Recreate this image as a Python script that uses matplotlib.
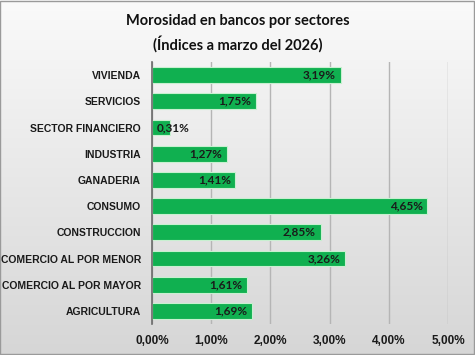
import matplotlib
matplotlib.use("Agg")
import matplotlib.pyplot as plt
import numpy as np
from matplotlib import font_manager as fm
from matplotlib.colors import LinearSegmentedColormap

categories = ["VIVIENDA", "SERVICIOS", "SECTOR FINANCIERO", "INDUSTRIA", "GANADERIA",
              "CONSUMO", "CONSTRUCCION", "COMERCIO AL POR MENOR", "COMERCIO AL POR MAYOR",
              "AGRICULTURA"]
values = [3.19, 1.75, 0.31, 1.27, 1.41, 4.65, 2.85, 3.26, 1.61, 1.69]
xticks = [0, 1, 2, 3, 4, 5]
xtick_labels = ["0,00%", "1,00%", "2,00%", "3,00%", "4,00%", "5,00%"]
title = "Morosidad en bancos por sectores\n(Índices a marzo del 2026)"

names = {f.name for f in fm.fontManager.ttflist}
arial = "Liberation Sans" if "Liberation Sans" in names else "DejaVu Sans"
calib = "Lato" if "Lato" in names else "DejaVu Sans"

fig = plt.figure(figsize=(4.75, 3.55), dpi=100)

# gradient background
bg = fig.add_axes([0, 0, 1, 1], zorder=-10)
grad = np.linspace(0, 1, 256).reshape(-1, 1)
cmap = LinearSegmentedColormap.from_list("g", ["#FAFAFA", "#D6D6D6"])
bg.imshow(grad, aspect="auto", cmap=cmap, extent=[0, 1, 0, 1], origin="upper")
bg.set_axis_off()
fig.patches.append(plt.Rectangle((0.001, 0.002), 0.997, 0.995, transform=fig.transFigure,
                                 fill=False, edgecolor="#9A9A9A", linewidth=1))

ax = fig.add_axes([152 / 475, 1 - 324 / 355, (448 - 152) / 475, 262 / 355])
ax.patch.set_alpha(0)
y = np.arange(len(categories))
ax.barh(y, values, height=0.6, color="#10B050", edgecolor="#C8F0D0", linewidth=0.8, zorder=3)
ax.set_ylim(len(categories) - 0.5, -0.5)
ax.set_xlim(0, 5)
ax.set_yticks(y)
ax.set_yticklabels(categories, fontfamily=arial, fontweight="bold", fontsize=7.5, color="#1A1A1A")
ax.set_xticks(xticks)
ax.set_xticklabels(xtick_labels, fontfamily=arial, fontweight="bold", fontsize=8.5, color="#1A1A1A")
ax.tick_params(axis="both", length=0)
ax.tick_params(axis="y", pad=8)
ax.tick_params(axis="x", pad=8)
ax.grid(axis="x", color="#B5B5B5", linewidth=1, zorder=0)
for s in ["top", "right", "bottom"]:
    ax.spines[s].set_visible(False)
ax.spines["left"].set_color("#6A6A6A")
ax.spines["left"].set_linewidth(1.2)
ax.spines["left"].set_zorder(4)

for yi, v in zip(y, values):
    lbl = f"{v:.2f}".replace(".", ",") + "%"
    if v < 0.6:
        ax.text(v - 0.23, yi, lbl, ha="left", va="center", fontfamily=calib, fontweight="bold",
                fontsize=8.5, color="#1A1A1A", zorder=5)
    else:
        ax.text(v - 0.08, yi, lbl, ha="right", va="center", fontfamily=calib, fontweight="bold",
                fontsize=8.5, color="#1A1A1A", zorder=5)

fig.text(0.5, 0.96, title, ha="center", va="top", fontfamily=calib, fontweight="bold",
         fontsize=10.5, color="#111111", linespacing=1.5)

fig.savefig("out.png", dpi=100)
